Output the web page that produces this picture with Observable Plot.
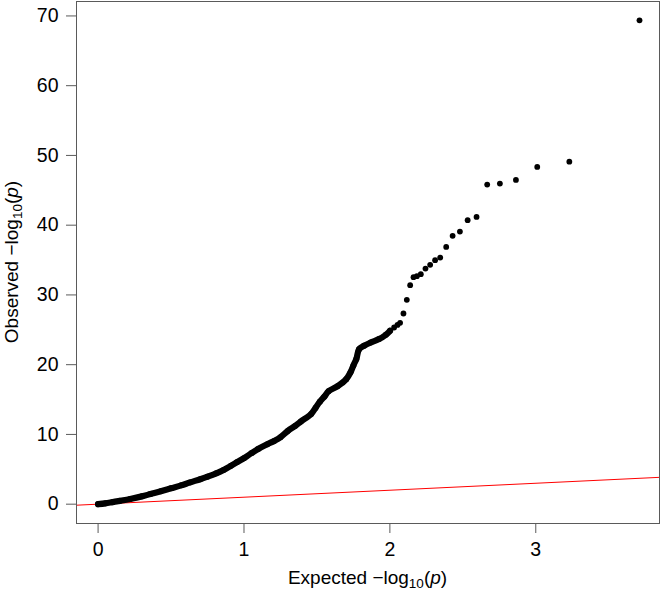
<!DOCTYPE html>
<html><head><meta charset="utf-8">
<script src="https://cdn.jsdelivr.net/npm/d3@7"></script>
<script src="https://cdn.jsdelivr.net/npm/@observablehq/plot@0.6"></script>
<style>
html,body{margin:0;padding:0;background:#fff;overflow:hidden}
#chart svg{display:block}
</style>
</head><body><div id="chart"></div>
<script>
// Dense part of the QQ curve (expected, observed)
const denseExpected = [0.00,0.05,0.10,0.15,0.22,0.30,0.36,0.43,0.50,0.57,0.63,0.70,0.75,0.81,0.86,0.91,0.95,1.00,1.05,1.10,1.16,1.21,1.25,1.30,1.35,1.39,1.46,1.49,1.52,1.55,1.58,1.64,1.70,1.73,1.75,1.77,1.789,1.823,1.869,1.926,1.972,2.001];
const denseObserved = [0.00,0.12,0.30,0.48,0.75,1.12,1.46,1.85,2.28,2.70,3.12,3.58,3.94,4.42,4.90,5.50,6.00,6.60,7.30,7.95,8.60,9.10,9.60,10.50,11.20,11.86,12.92,13.80,14.70,15.40,16.20,16.90,17.90,18.90,19.90,20.80,22.23,22.71,23.18,23.67,24.28,24.86];
// Sparse upper tail
const tailExpected = [2.029,2.052,2.070,2.093,2.116,2.139,2.162,2.185,2.212,2.244,2.276,2.310,2.345,2.386,2.430,2.480,2.533,2.594,2.667,2.754,2.864,3.010,3.230,3.711];
const tailObserved = [25.33,25.70,26.00,27.34,29.30,31.40,32.55,32.69,32.98,33.78,34.31,34.99,35.36,36.89,38.47,39.08,40.72,41.19,45.82,45.96,46.49,48.35,49.11,69.37];

const xTicks = [0, 1, 2, 3];
const yTicks = [0, 10, 20, 30, 40, 50, 60, 70];
const xDomain = [-0.148, 3.848];
const yDomain = [-2.77, 72.07];
const xTitle = "Expected";
const yTitle = "Observed";

const dense = denseExpected.map((e, i) => ({e, o: denseObserved[i]}));
const tail = tailExpected.map((e, i) => ({e, o: tailObserved[i]}));
const refLine = xDomain.map(v => ({e: v, o: v}));

const axisColor = "#5a5a5a";
const font = "'Liberation Sans', Arial, Helvetica, sans-serif";

const svg = Plot.plot({
  width: 660,
  height: 592,
  marginLeft: 76,
  marginRight: 1,
  marginTop: 1,
  marginBottom: 69,
  style: {fontFamily: font, fontSize: "19.5px", color: "black", background: "white"},
  x: {domain: xDomain, ticks: xTicks, label: null},
  y: {domain: yDomain, ticks: yTicks, label: null},
  marks: [
    Plot.line(refLine, {x: "e", y: "o", stroke: "#ff0000", strokeWidth: 1}),
    Plot.line(dense, {x: "e", y: "o", stroke: "black", strokeWidth: 6.2, strokeLinecap: "round", strokeLinejoin: "round", curve: "catmull-rom"}),
    Plot.dot(dense, {x: "e", y: "o", r: 3, fill: "black", stroke: "none"}),
    Plot.dot(tail, {x: "e", y: "o", r: 2.9, fill: "black", stroke: "none"}),
    Plot.frame({stroke: axisColor, strokeWidth: 1}),
    Plot.axisX({ticks: xTicks, tickSize: 10, tickPadding: 9, stroke: axisColor, fill: "black", label: null, tickFormat: d => String(d)}),
    Plot.axisY({ticks: yTicks, tickSize: 10, tickPadding: 8, stroke: axisColor, fill: "black", label: null, tickFormat: d => String(d)})
  ]
});

document.getElementById("chart").appendChild(svg);

const xs = svg.scale("x"), ys = svg.scale("y");
const cx = (xs.range[0] + xs.range[1]) / 2;
const cy = (ys.range[0] + ys.range[1]) / 2;
const sel = d3.select(svg);

function addTitle(g, word) {
  const t = g.append("text")
    .attr("text-anchor", "middle")
    .attr("font-family", font)
    .attr("font-size", 19)
    .attr("fill", "black");
  t.append("tspan").text(word + " \u2212log");
  t.append("tspan").attr("font-size", 13.5).attr("dy", 4).text("10");
  t.append("tspan").attr("dy", -4).text("(");
  t.append("tspan").attr("font-style", "italic").text("p");
  t.append("tspan").text(")");
  return t;
}

addTitle(sel.append("g").attr("transform", `translate(${cx},584)`), xTitle);
addTitle(sel.append("g").attr("transform", `translate(17.5,${cy}) rotate(-90)`), yTitle);
</script>
</body></html>
